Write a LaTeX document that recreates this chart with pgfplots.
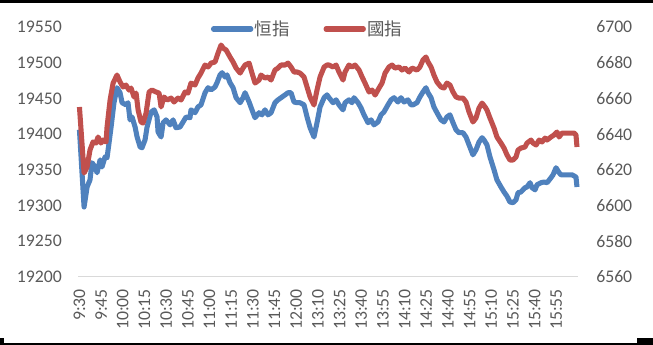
\documentclass[border=0pt]{standalone}
\usepackage{fontspec}
\setmainfont{Carlito}
\newfontfamily\cjk{Noto Sans CJK TC}
\usepackage{pgfplots}
\pgfplotsset{compat=1.18}
\definecolor{hsi}{HTML}{4F81BD}
\definecolor{hscei}{HTML}{C0504D}
\definecolor{tc}{HTML}{595959}
\definecolor{axc}{HTML}{D9D9D9}
\begin{document}
\begin{tikzpicture}
\pgfplotsset{
 common/.style={scale only axis, width=375pt, height=187.5pt, at={(58.5pt,51pt)}, anchor=south west,
  xmin=-1, xmax=345, major tick length=0pt, clip=false, scaled y ticks=false, scaled x ticks=false,
  tick label style={font=\fontsize{13.3}{16}\selectfont, text=tc},
  /pgf/number format/assume math mode=true, /pgf/number format/1000 sep={}},
}
\begin{axis}[common, ymin=19200, ymax=19550, ytick={19200,19250,...,19550},
  axis x line*=bottom, axis y line*=left, y axis line style={draw=none},
  x axis line style={draw=axc, line width=0.75pt},
  xtick={0,15,...,330},
  xticklabels={9:30,9:45,10:00,10:15,10:30,10:45,11:00,11:15,11:30,11:45,12:00,13:10,13:25,13:40,13:55,14:10,14:25,14:40,14:55,15:10,15:25,15:40,15:55},
  xticklabel style={rotate=90, anchor=east, inner sep=0pt}, xticklabel shift=9pt,
  yticklabel style={anchor=east, inner sep=0pt}, yticklabel shift=12pt]
\addplot[hsi, line width=3.8pt, line join=round, no marks] coordinates {
(0,19406)(3.2,19298)(5.3,19326)(7.3,19336)(8.7,19360)(10.8,19354)(12.2,19346)(14.3,19364)(15.6,19354)(17.7,19368)(19.1,19367)(20.5,19388)(21.9,19410)(23.9,19444)(26,19465)(28.1,19458)(29.5,19444)(32.2,19441)(33.6,19444)(35,19420)(36.4,19424)(38.5,19410)(39.9,19396)(42,19382)(43.3,19381)(45.4,19392)(46.8,19410)(49.6,19431)(51.7,19434)(53.7,19424)(54.4,19403)(56.5,19396)(57.9,19416)(59.9,19420)(62.7,19413)(64.8,19420)(66.8,19409)(69.6,19410)(71.7,19417)(73.8,19424)(76.5,19423)(77.2,19434)(80,19430)(82,19438)(84.1,19441)(86.9,19458)(89,19465)(91.1,19462)(93.8,19466)(95.2,19472)(97.3,19483)(98.7,19486)(100.8,19480)(102.1,19483)(104.2,19472)(106.3,19465)(108.4,19451)(111.2,19444)(113.2,19451)(114.6,19458)(117.4,19445)(119.4,19434)(121.5,19423)(124.3,19430)(126.3,19427)(128.4,19434)(130.5,19427)(132.6,19430)(135.3,19444)(137.4,19448)(139.5,19451)(142.3,19455)(144.3,19458)(146.4,19458)(148.5,19445)(150.6,19444)(152.6,19444)(155.4,19441)(157.5,19424)(159.6,19409)(162.3,19396)(164.4,19416)(166.5,19438)(169.3,19451)(171.3,19455)(172.7,19451)(175.5,19444)(177.6,19448)(179.6,19441)(182.4,19434)(183.8,19444)(186.5,19448)(188.6,19444)(190,19451)(192.8,19444)(194.8,19437)(196.9,19427)(199.7,19416)(201.8,19420)(203.8,19413)(206.6,19417)(208.7,19427)(210.7,19431)(213.5,19441)(215.6,19448)(217.7,19451)(220.4,19445)(222.5,19451)(224.6,19445)(227.3,19448)(229.4,19441)(230.8,19441)(233.6,19444)(235.6,19452)(237.7,19459)(239.8,19465)(241.2,19458)(243.3,19451)(245.3,19438)(247.4,19430)(250.2,19420)(252.3,19417)(254.3,19424)(256.4,19427)(258.5,19416)(260.6,19406)(262.6,19402)(265.4,19402)(267.5,19396)(269.6,19385)(272.3,19371)(274.4,19378)(276.5,19389)(278.6,19395)(279.9,19392)(282,19385)(284.1,19368)(286.9,19350)(288.9,19336)(291.7,19326)(293.8,19319)(295.9,19313)(297.9,19305)(300,19304)(302.1,19308)(303.5,19318)(305.5,19319)(308.3,19325)(309.7,19326)(311.8,19332)(313.2,19325)(315.3,19322)(316.6,19329)(319.4,19332)(321.5,19333)(323.6,19332)(326.3,19339)(327.7,19343)(329.8,19353)(331.9,19346)(333.3,19343)(336,19343)(338.1,19343)(340.9,19343)(343.6,19340)(344.3,19326)
};
\end{axis}
\begin{axis}[common, ymin=6560, ymax=6700, ytick={6560,6580,...,6700},
  axis x line=none, xtick=\empty, axis y line*=right, y axis line style={draw=none},
  yticklabel style={anchor=west, inner sep=0pt}, yticklabel shift=13.5pt,
  legend style={draw=none, fill=none, at={(0.459,0.992)}, anchor=center, legend columns=2,
    font=\cjk\fontsize{13.1}{16}\selectfont, text=tc, inner sep=0pt,
    nodes={inner sep=1.2pt},
    /tikz/every even column/.append style={column sep=24pt}},
  legend image code/.code={\draw[#1, line width=3.8pt, line cap=round] (0pt,0pt) -- (28pt,0pt);}]
\addlegendimage{hsi}
\addlegendentry{恒指}
\addplot[hscei, line width=3.8pt, line join=round, no marks] coordinates {
(0,6655.2)(3.2,6618.2)(5.3,6621.6)(7.3,6631.1)(9.4,6635.6)(11.5,6635)(12.9,6638.4)(14.9,6635)(16.3,6636.7)(18.4,6635.6)(19.1,6644)(21.2,6659.1)(23.3,6668.6)(26,6673.1)(28.1,6669.2)(30.2,6666.4)(32.2,6667.5)(34.3,6664.7)(35.7,6665.8)(37.8,6660.8)(39.2,6663)(40.6,6653.5)(42.6,6646.8)(44,6646.2)(46.1,6651.8)(48.2,6663.6)(50.2,6664.7)(53,6663.6)(55.1,6663)(56.5,6655.2)(58.5,6660.8)(60.6,6659.1)(63.4,6660.2)(65.5,6658)(68.2,6660.2)(70.3,6659.1)(73.1,6663.6)(75.1,6663)(77.2,6668.6)(80,6667.5)(82,6671.4)(84.1,6674.2)(86.9,6678.7)(89,6677.6)(91.1,6679.8)(93.8,6680.4)(95.9,6685.4)(98,6689.9)(99.4,6688.2)(101.5,6687.1)(104.2,6683.2)(106.3,6680.4)(108.4,6677)(111.2,6674.2)(113.2,6677)(114.6,6678.7)(117.4,6679.8)(119.4,6674.2)(121.5,6668.6)(124.3,6670.3)(125.6,6673.1)(128.4,6671.4)(130.5,6672)(132.6,6670.3)(135.3,6675.9)(137.4,6677)(139.5,6678.7)(142.3,6678.7)(144.3,6679.8)(146.4,6677.6)(148.5,6674.8)(150.6,6674.8)(152.6,6674.2)(155.4,6672)(157.5,6666.4)(159.6,6660.8)(162.3,6656.3)(164.4,6664.7)(166.5,6672)(169.3,6677.6)(171.3,6678.7)(172.7,6678.7)(175.5,6677.6)(177.6,6678.7)(179.6,6674.8)(182.4,6670.3)(183.8,6674.8)(186.5,6678.7)(188.6,6677.6)(190.7,6678.7)(193.5,6675.9)(195.6,6672)(197.6,6668.6)(200.4,6663.6)(202.5,6664.7)(204.6,6661.9)(207.3,6665.8)(209.4,6668.6)(211.5,6674.2)(214.2,6677.6)(216.3,6678.7)(218.4,6677)(221.2,6677.6)(223.2,6675.9)(225.3,6677)(228.1,6674.8)(230.1,6677)(233.6,6675.9)(235.6,6677.6)(237.7,6681.5)(239.8,6683.2)(241.2,6680.4)(243.3,6677.6)(245.3,6673.1)(247.4,6669.2)(250.2,6666.4)(252.3,6665.8)(254.3,6668.6)(256.4,6667.5)(258.5,6663.6)(260.6,6660.8)(262.6,6660.2)(265.4,6660.2)(267.5,6658)(269.6,6652.4)(272.3,6646.8)(274.4,6649)(276.5,6654.6)(278.6,6657.4)(280.7,6655.2)(282,6653.5)(284.1,6649)(286.9,6643.4)(288.9,6638.4)(291.7,6635)(293.8,6632.2)(295.9,6628.3)(297.9,6625.5)(300,6625.5)(302.1,6627.2)(303.5,6631.1)(305.5,6632.2)(308.3,6632.8)(309.7,6635)(312.5,6636.7)(313.9,6635)(316,6633.9)(318.1,6636.7)(320.1,6635.6)(322.2,6637.8)(323.6,6636.7)(326.3,6638.4)(328.4,6639.5)(330.5,6641.2)(331.9,6638.4)(334,6640.6)(336,6640.6)(339.6,6640.6)(342.4,6640.6)(343.6,6639.5)(344.3,6632.8)
};
\addlegendentry{國指}
\end{axis}
\fill[black] (0pt,256.5pt) rectangle (489.75pt,258.75pt);
\fill[black] (0pt,0pt) rectangle (489.75pt,1.5pt);
\fill[black] (477.75pt,1.5pt) rectangle (489.75pt,5.25pt);
\fill[black] (0pt,1.5pt) rectangle (3pt,5.25pt);
\pgfresetboundingbox
\path[use as bounding box] (0pt,0pt) rectangle (489.75pt,258.75pt);
\end{tikzpicture}
\end{document}
